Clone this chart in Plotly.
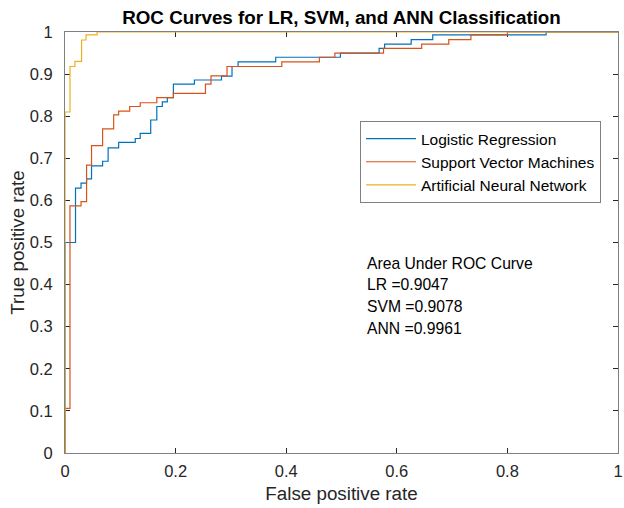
import plotly.graph_objects as go

# ROC data (step vertices)
lr_fpr = [0, 0, 0.019, 0.029, 0.039, 0.048, 0.068, 0.078, 0.097, 0.127, 0.136, 0.155, 0.166, 0.176,
          0.185, 0.196, 0.234, 0.283, 0.302, 0.313, 0.381, 0.498, 0.568, 0.578, 0.626, 0.665, 0.87, 1.0]
lr_tpr = [0, 0.50, 0.629, 0.641, 0.651, 0.682, 0.693, 0.725, 0.738, 0.747, 0.759, 0.791, 0.823, 0.834,
          0.844, 0.876, 0.886, 0.895, 0.918, 0.929, 0.940, 0.950, 0.961, 0.971, 0.982, 0.993, 1.0, 1.0]

svm_fpr = [0, 0, 0.009, 0.029, 0.039, 0.048, 0.068, 0.088, 0.097, 0.117, 0.136, 0.166, 0.196, 0.254,
           0.264, 0.293, 0.392, 0.460, 0.488, 0.576, 0.645, 0.694, 0.734, 0.80, 1.0]
svm_tpr = [0, 0.106, 0.587, 0.597, 0.684, 0.730, 0.770, 0.803, 0.812, 0.823, 0.832, 0.844, 0.854, 0.876,
           0.896, 0.918, 0.929, 0.940, 0.950, 0.961, 0.971, 0.982, 0.993, 1.0, 1.0]

ann_fpr = [0, 0, 0.009, 0.018, 0.030, 0.038, 0.058, 1.0]
ann_tpr = [0, 0.81, 0.918, 0.930, 0.981, 0.993, 1.0, 1.0]

series_names = ["Logistic Regression", "Support Vector Machines", "Artificial Neural Network"]
series_colors = ["#0072BD", "#D95319", "#EDB120"]

auc_lines = ["Area Under ROC Curve", "LR =0.9047", "SVM =0.9078", "ANN =0.9961"]
tick_vals = [0, 0.1, 0.2, 0.3, 0.4, 0.5, 0.6, 0.7, 0.8, 0.9, 1.0]
x_tick_vals = [0, 0.2, 0.4, 0.6, 0.8, 1.0]

FONT = "Liberation Sans, Arial, Helvetica, sans-serif"
AXC = "#262626"

L, R = 65, 618
PW = R - L

fig = go.Figure()
for i, (xs, ys) in enumerate([(lr_fpr, lr_tpr), (svm_fpr, svm_tpr), (ann_fpr, ann_tpr)]):
    fig.add_trace(go.Scatter(
        x=xs, y=ys, mode="lines", name=series_names[i], legendgroup=str(i),
        line=dict(color=series_colors[i], width=1.2, shape="hv"),
    ))

for j, txt in enumerate(auc_lines):
    fig.add_annotation(
        x=(365 - L) / PW, xref="paper", y=0.451 - j * 0.0515, yref="y",
        text=txt, showarrow=False, xanchor="left", yanchor="middle",
        font=dict(family=FONT, size=15.7, color="#000000"),
    )

axis_common = dict(
    range=[0, 1], showgrid=False, zeroline=False, showline=True, linecolor="#808080",
    linewidth=1, mirror="ticks", ticks="inside", ticklen=5, tickcolor=AXC,
    tickfont=dict(family=FONT, size=16.5, color=AXC), layer="below traces",
    ticklabeloverflow="allow", automargin=False,
)

fig.update_layout(
    width=624, height=508,
    margin=dict(l=L, r=624 - R, t=32, b=55),
    paper_bgcolor="white", plot_bgcolor="white",
    title=dict(text="<b>ROC Curves for LR, SVM, and ANN Classification</b>",
               x=0.5, xref="paper", xanchor="center", y=1 - 17 / 508, yanchor="middle",
               font=dict(family=FONT, size=18.8, color="#000000")),
    xaxis=dict(axis_common, tickvals=x_tick_vals, ticktext=[f"{v:g}" for v in x_tick_vals],
               ticklabelstandoff=3,
               title=dict(text="False positive rate", standoff=8,
                          font=dict(family=FONT, size=18.8, color=AXC))),
    yaxis=dict(axis_common, tickvals=tick_vals, ticktext=[f"{v:g}" for v in tick_vals],
               ticklabelstandoff=8,
               title=dict(text="True positive rate", standoff=0,
                          font=dict(family=FONT, size=18.8, color=AXC))),
    legend=dict(x=(360 - L) / PW, y=(453 - 121) / 421, xanchor="left", yanchor="top",
                bgcolor="white", bordercolor="#808080", borderwidth=1,
                font=dict(family=FONT, size=15.5, color="#000000"),
                traceorder="grouped", tracegroupgap=0, itemwidth=50),
    showlegend=True,
)

fig.write_html("out.html")
